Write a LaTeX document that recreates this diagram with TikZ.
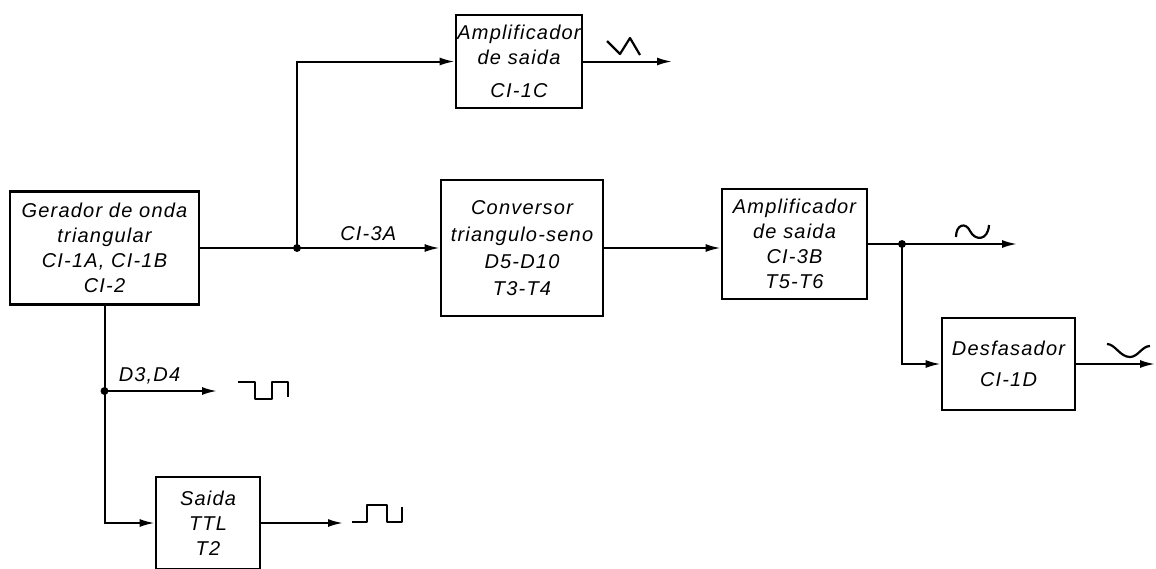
\documentclass[tikz,border=0pt]{standalone}
\usepackage{fontspec}
\setmainfont{Liberation Sans}[LetterSpace=6]
\usepackage{tikz}
\usetikzlibrary{
  arrows.meta,%
  calc,%
  positioning
}
\tikzset{>={Latex[length=7.5pt, width=4pt]}}
\tikzset{font=\fontsize{10pt}{12.5pt}\selectfont\itshape}
\tikzset{block/.style={draw, line width=1.4pt, align=center, inner sep=0.5pt},
  conn/.style={line width=1pt},
  wave/.style={line width=1.1pt, line join=round},
  jdot/.style={circle, fill, inner sep=1.4pt}}

\begin{document}
\begin{tikzpicture}[x=0.5pt, y=-0.5pt]
  \useasboundingbox (0, 0) rectangle (1156, 568); %
  % blocos
  \node[block, minimum width=94.5pt, minimum height=56.5pt] (gen) at (104.5, 248)
    {Gerador de onda\\triangular\\CI-1A, CI-1B\\CI-2}; %
  \node[block, minimum width=63pt, minimum height=46.5pt] (amp1) at (519, 61.5)
    {Amplificador\\de saida\\[4pt]CI-1C}; %
  \node[block, minimum width=81pt, minimum height=68pt] (conv) at (522, 248)
    {Conversor\\[1pt]triangulo-seno\\[1pt]D5-D10\\[1pt]T3-T4}; %
  \node[block, minimum width=72.5pt, minimum height=55pt] (amp2) at (794.5, 244)
    {Amplificador\\de saida\\CI-3B\\T5-T6}; %
  \node[block, minimum width=66.5pt, minimum height=46pt] (desf) at (1008.5, 364)
    {Desfasador\\[3pt]CI-1D}; %
  \node[block, minimum width=52pt, minimum height=46pt] (ttl) at (208, 523)
    {Saida\\TTL\\T2}; %
  % pontos
  \coordinate (j1) at (297, 248); %
  \coordinate (j2) at (902, 244); %
  \coordinate (j3) at (104.5, 391); %
  \coordinate (out1) at (672, 61.5); %
  \coordinate (out2) at (1017, 244); %
  \coordinate (out3) at (1155, 364); %
  \coordinate (out4) at (217, 391); %
  \coordinate (out5) at (343, 523); %
  % ligacoes
  \draw[conn, ->] (gen.east) -- (j1) -- node[above, inner sep=3pt] {CI-3A} (gen.east -| conv.west); %
  \draw[conn, ->] (j1) |- (amp1.west); %
  \draw[conn, ->] (amp1.east) -- (out1); %
  \draw[conn, ->] (conv.east) -- (conv.east -| amp2.west); %
  \draw[conn, ->] (amp2.east) -- (out2); %
  \draw[conn, ->] (j2) |- (desf.west); %
  \draw[conn, ->] (desf.east) -- (out3); %
  \draw[conn, ->] (gen.south) |- (ttl.west); %
  \draw[conn, ->] (j3) -- node[above, pos=0.4, inner sep=3pt] {D3,D4} (out4); %
  \draw[conn, ->] (ttl.east) -- (out5); %
  \node[jdot] (d1) at (j1) {}; %
  \node[jdot] (d2) at (j2) {}; %
  \node[jdot] (d3) at (j3) {}; %
  % formas de onda
  \draw[wave] (607, 41) -- (620, 54) -- (630, 38) -- (640, 55); %
  \draw[wave] (956, 237) .. controls (956, 224) and (966, 222) .. (970, 231)
    .. controls (975, 241) and (988, 241) .. (989, 225); %
  \draw[wave] (1107, 344) .. controls (1115, 344) and (1120, 357) .. (1130, 357)
    .. controls (1138, 357) and (1142, 346) .. (1150, 346); %
  \draw[wave] (238, 382) -- (255, 382) -- (255, 399) -- (272, 399) -- (272, 382) -- (288, 382) -- (288, 397); %
  \draw[wave] (352, 522) -- (367, 522) -- (367, 505) -- (387, 505) -- (387, 522) -- (402, 522) -- (402, 507); %
\end{tikzpicture}
\end{document}
